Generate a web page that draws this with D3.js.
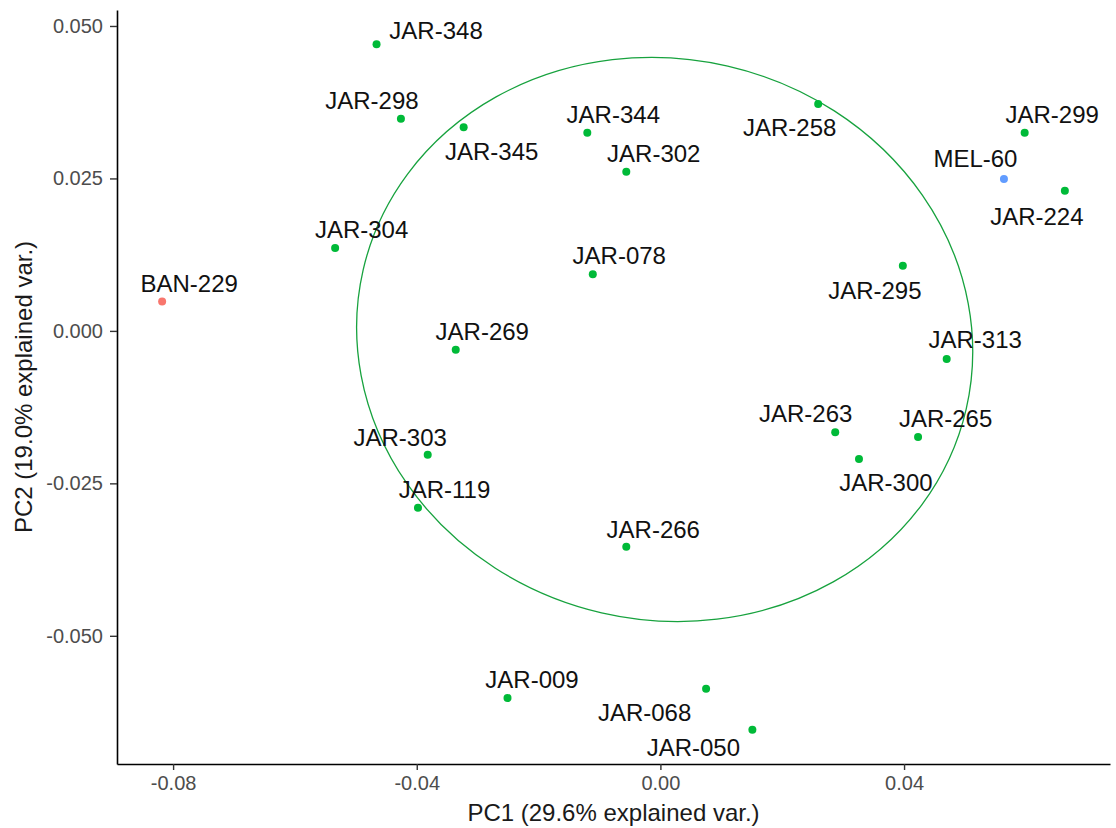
<!DOCTYPE html>
<html>
<head>
<meta charset="utf-8">
<script src="https://cdn.jsdelivr.net/npm/d3@7"></script>
<style>
  body { margin: 0; background: #fff; }
  svg text { font-family: "Liberation Sans", Arial, sans-serif; }
</style>
</head>
<body>
<svg id="chart"></svg>
<script>
// sample names, groups and PC scores
const names = ['BAN-229', 'JAR-348', 'JAR-298', 'JAR-345', 'JAR-344', 'JAR-302', 'JAR-258', 'JAR-078',
    'JAR-299', 'MEL-60', 'JAR-224', 'JAR-304', 'JAR-269', 'JAR-265', 'JAR-263', 'JAR-300',
    'JAR-303', 'JAR-119', 'JAR-009', 'JAR-068', 'JAR-050', 'JAR-295', 'JAR-313', 'JAR-266'];
const groups = ['BAN', 'JAR', 'JAR', 'JAR', 'JAR', 'JAR', 'JAR', 'JAR',
    'JAR', 'MEL', 'JAR', 'JAR', 'JAR', 'JAR', 'JAR', 'JAR',
    'JAR', 'JAR', 'JAR', 'JAR', 'JAR', 'JAR', 'JAR', 'JAR'];
const pc1 = [-0.0818, -0.0466, -0.0426, -0.0323, -0.0120, -0.0056, 0.0259, -0.0111,
    0.0598, 0.0564, 0.0664, -0.0534, -0.0336, 0.0423, 0.0287, 0.0326,
    -0.0382, -0.0398, -0.0251, 0.0075, 0.0151, 0.0398, 0.0470, -0.0056];
const pc2 = [0.0048, 0.0470, 0.0348, 0.0334, 0.0325, 0.0261, 0.0372, 0.0093,
    0.0325, 0.0249, 0.0230, 0.0136, -0.0031, -0.0174, -0.0166, -0.0210,
    -0.0203, -0.0290, -0.0602, -0.0587, -0.0654, 0.0107, -0.0046, -0.0354];

// where ggrepel put each label, relative to its point (px)
const labelDx = [27, 59.5, -29, 28, 26, 27.5, -28.5, 26.5,
    27.5, -28.5, -28, 26.5, 26.5, 27.5, -29.5, 27,
    -27.5, 26.5, 24.5, -61.5, -59, -28, 28.5, 27];
const labelDy = [-10, -5, -10, 33, -10, -10, 32, -10,
    -10, -12, 34, -10, -10, -10, -10, 32,
    -9, -10, -10, 32, 26, 33, -11, -9];

const xTicks = [-0.08, -0.04, 0.00, 0.04];
const yTicks = [-0.050, -0.025, 0.000, 0.025, 0.050];

// normal-data ellipse of the JAR group (data units, angle in degrees)
const ellipseJar = { cx: 0.0007, cy: -0.0014, a: 0.0508, b: 0.0460, angle: -13 };

const groupColors = { BAN: '#F8766D', JAR: '#00BA38', MEL: '#619CFF' };

// R prints a plain hyphen, not the unicode minus d3 uses
const fmt = p => v => d3.format(`.${p}f`)(v).replace('\u2212', '-');

class PcaBiplot {

    constructor(config, data) {
        this.config = {
            parent: config.parent,
            width: config.width || 1116,
            height: config.height || 828,
            margin: config.margin || { top: 10, right: 6, bottom: 64, left: 117 },
            xlabel: config.xlabel || '',
            ylabel: config.ylabel || ''
        };
        this.data = data;
        this.init();
    }

    init() {
        let self = this;
        let margin = self.config.margin;

        self.svg = d3.select(self.config.parent)
            .attr('width', self.config.width)
            .attr('height', self.config.height);

        self.inner_width = self.config.width - margin.left - margin.right;
        self.inner_height = self.config.height - margin.top - margin.bottom;

        self.chart = self.svg.append('g')
            .attr('transform', `translate(${margin.left}, ${margin.top})`);

        // ggplot style 5% expansion on each side
        const xext = d3.extent(self.data, d => d.x);
        const yext = d3.extent(self.data, d => d.y);
        const xpad = (xext[1] - xext[0]) * 0.05;
        const ypad = (yext[1] - yext[0]) * 0.05;

        self.xscale = d3.scaleLinear()
            .domain([xext[0] - xpad, xext[1] + xpad])
            .range([0, self.inner_width]);

        self.yscale = d3.scaleLinear()
            .domain([yext[0] - ypad, yext[1] + ypad])
            .range([self.inner_height, 0]);

        self.xaxis = d3.axisBottom(self.xscale)
            .tickValues(xTicks)
            .tickFormat(fmt(2))
            .tickSize(6)
            .tickPadding(6)
            .tickSizeOuter(0);

        self.yaxis = d3.axisLeft(self.yscale)
            .tickValues(yTicks)
            .tickFormat(fmt(3))
            .tickSize(7)
            .tickPadding(7)
            .tickSizeOuter(0);

        self.xaxis_group = self.chart.append('g')
            .attr('transform', `translate(0, ${self.inner_height})`);

        self.yaxis_group = self.chart.append('g');

        self.svg.append('text')
            .attr('x', margin.left + self.inner_width / 2)
            .attr('y', self.config.height - 7)
            .attr('text-anchor', 'middle')
            .attr('font-size', 24)
            .attr('fill', '#1a1a1a')
            .text(self.config.xlabel);

        self.svg.append('text')
            .attr('transform', `rotate(-90)`)
            .attr('x', -(margin.top + self.inner_height / 2))
            .attr('y', 32)
            .attr('text-anchor', 'middle')
            .attr('font-size', 24)
            .attr('fill', '#1a1a1a')
            .text(self.config.ylabel);
    }

    render() {
        let self = this;
        const e = ellipseJar;
        const ecx = self.xscale(e.cx);
        const ecy = self.yscale(e.cy);

        self.chart.append('ellipse')
            .attr('cx', ecx)
            .attr('cy', ecy)
            .attr('rx', self.xscale(e.cx + e.a) - ecx)
            .attr('ry', ecy - self.yscale(e.cy + e.b))
            .attr('transform', `rotate(${-e.angle}, ${ecx}, ${ecy})`)
            .attr('fill', 'none')
            .attr('stroke', '#17a23e')
            .attr('stroke-width', 1.3);

        self.chart.selectAll('.dot')
            .data(self.data)
            .join('circle')
            .attr('class', 'dot')
            .attr('cx', d => self.xscale(d.x))
            .attr('cy', d => self.yscale(d.y))
            .attr('r', 4)
            .attr('fill', d => groupColors[d.group]);

        self.chart.selectAll('.label')
            .data(self.data)
            .join('text')
            .attr('class', 'label')
            .attr('x', d => self.xscale(d.x) + d.dx)
            .attr('y', d => self.yscale(d.y) + d.dy)
            .attr('text-anchor', 'middle')
            .attr('font-size', 24)
            .attr('fill', '#111')
            .text(d => d.name);

        self.xaxis_group.call(self.xaxis);
        self.yaxis_group.call(self.yaxis);

        [self.xaxis_group, self.yaxis_group].forEach(g => {
            g.select('.domain').attr('stroke', '#000').attr('stroke-width', 1.6);
            g.selectAll('.tick line').attr('stroke', '#333').attr('stroke-width', 1.4);
            g.selectAll('.tick text')
                .attr('font-size', 20)
                .attr('font-family', '"Liberation Sans", Arial, sans-serif')
                .attr('fill', '#4d4d4d');
        });
    }
}

const data = names.map((n, i) => ({
    name: n, group: groups[i], x: pc1[i], y: pc2[i], dx: labelDx[i], dy: labelDy[i]
}));

const chart = new PcaBiplot({
    parent: '#chart',
    xlabel: 'PC1 (29.6% explained var.)',
    ylabel: 'PC2 (19.0% explained var.)'
}, data);
chart.render();
</script>
</body>
</html>
